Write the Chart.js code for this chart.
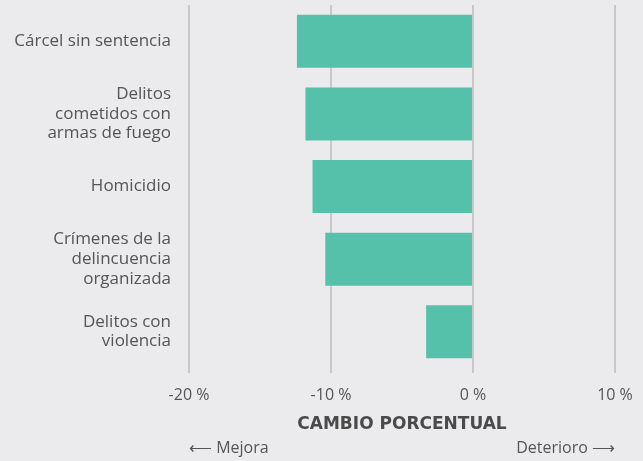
<!DOCTYPE html>
<html>
<head>
<meta charset="utf-8">
<script src="https://cdn.jsdelivr.net/npm/chart.js@4/dist/chart.umd.min.js"></script>
<style>
  html, body { margin: 0; padding: 0; background: #ebebed; }
  #wrap { width: 643px; height: 461px; }
</style>
</head>
<body>
<div id="wrap"><canvas id="chart" width="643" height="461"></canvas></div>
<script>
// categories (multi-line labels as drawn)
var categories = [
    ["Cárcel sin sentencia"],
    ["Delitos", "cometidos con", "armas de fuego"],
    ["Homicidio"],
    ["Crímenes de la", "delincuencia", "organizada"],
    ["Delitos con", "violencia"]
];
// percentage change per category
var cambio = [-12.4, -11.8, -11.3, -10.4, -3.3];
var xTicks = [-20, -10, 0, 10];

var FONT = "'Open Sans', sans-serif";
var TEXT = "#555555";
var GRID = "#c8c8cb";

// arrows under the x axis
var arrowLabels = {
    id: "arrowLabels",
    afterDraw: function (chart) {
        var ctx = chart.ctx;
        var x = chart.scales.x;
        ctx.save();
        ctx.font = "16px " + FONT;
        ctx.fillStyle = TEXT;
        ctx.textBaseline = "middle";
        ctx.textAlign = "left";
        ctx.fillText("⟵ Mejora", x.getPixelForValue(-20), 448);
        ctx.textAlign = "right";
        ctx.fillText("Deterioro ⟶", x.getPixelForValue(10), 448);
        ctx.restore();
    }
};

new Chart(document.getElementById("chart"), {
    type: "bar",
    data: {
        labels: categories,
        datasets: [{
            data: cambio,
            backgroundColor: "#55c1ab",
            borderWidth: 0,
            categoryPercentage: 1,
            barPercentage: 0.73
        }]
    },
    options: {
        indexAxis: "y",
        responsive: false,
        animation: false,
        layout: { padding: { top: 5, right: 28, bottom: 21, left: 0 } },
        plugins: { legend: { display: false }, tooltip: { enabled: false } },
        scales: {
            x: {
                min: -20,
                max: 10,
                afterBuildTicks: function (s) {
                    s.ticks = xTicks.map(function (v) { return { value: v }; });
                },
                afterFit: function (s) {
                    s.paddingLeft = 0;
                    s.paddingRight = 0;
                },
                grid: { color: GRID, tickColor: GRID, lineWidth: 2, drawTicks: true, tickLength: 5 },
                border: { display: false },
                ticks: {
                    padding: 12.8,
                    color: TEXT,
                    font: { family: FONT, size: 16 },
                    callback: function (v) { return v + " %"; }
                },
                title: {
                    display: true,
                    text: "CAMBIO PORCENTUAL",
                    color: "#4a4a4a",
                    font: { family: "'DejaVu Sans', sans-serif", size: 17, weight: "bold", lineHeight: 1.05 },
                    padding: { top: -2, bottom: 6.3 }
                }
            },
            y: {
                afterFit: function (s) {
                    s.width = 189;
                    s.paddingTop = 0;
                    s.paddingBottom = 0;
                },
                grid: { display: false, drawTicks: false },
                border: { display: false },
                ticks: {
                    padding: 18,
                    color: TEXT,
                    font: { family: FONT, size: 17, lineHeight: 1.15 }
                }
            }
        }
    },
    plugins: [arrowLabels]
});
</script>
</body>
</html>
